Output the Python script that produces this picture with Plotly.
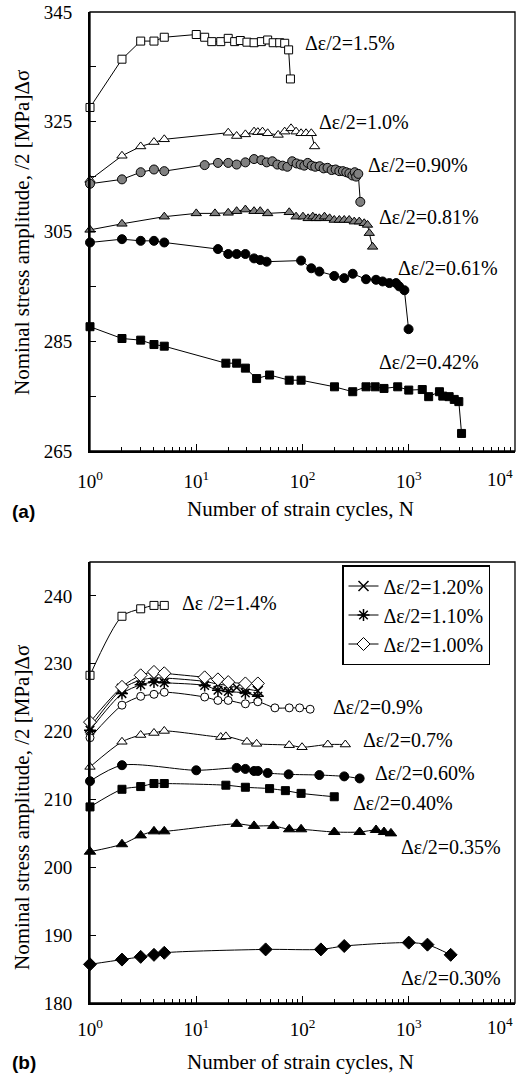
import plotly.graph_objects as go

W, H = 516, 1076

# ---------------- Data: panel (a) ----------------
a_N_150 = [1, 2, 3, 4, 5, 10, 12, 14, 17, 20, 23, 26, 30, 35, 41, 47, 53, 61, 68, 74, 77]
a_S_150 = [327.6, 336.4, 339.7, 339.7, 340.4, 340.9, 340.4, 339.6, 339.6, 340.2, 339.6, 339.8,
           339.5, 339.4, 339.6, 339.9, 339.4, 339.4, 339.3, 338.1, 332.8]

a_N_100 = [1, 2, 3, 4, 5, 20, 24, 29, 35, 38, 42, 47, 59, 68, 78, 87, 97, 108, 121, 130]
a_S_100 = [314.4, 318.8, 320.5, 321.3, 321.8, 323.0, 322.4, 322.7, 323.2, 323.1, 323.2, 322.9,
           322.6, 323.2, 323.8, 323.2, 322.9, 322.9, 322.9, 320.5]

a_N_090 = [1, 2, 3, 4, 5, 12, 16, 20, 24, 29, 35, 41, 46, 52, 58, 65, 72, 80, 88, 96, 104, 112,
           122, 132, 145, 158, 172, 188, 205, 222, 240, 258, 276, 295, 310, 320, 335, 350]
a_S_090 = [313.7, 314.5, 315.8, 316.3, 316.0, 317.1, 317.5, 317.5, 317.2, 317.6, 318.2, 318.0,
           317.6, 317.8, 317.2, 317.0, 316.8, 317.8, 317.4, 317.2, 317.0, 317.5, 317.0, 316.8,
           316.9, 316.5, 316.6, 316.2, 316.3, 316.0, 316.0, 315.8, 315.6, 315.2, 315.8, 315.0,
           315.5, 310.4]

a_N_081 = [1, 2, 5, 10, 15, 20, 24, 29, 35, 40, 47, 75, 87, 101, 113, 125, 134, 144, 161, 180,
           199, 222, 247, 275, 307, 342, 381, 409, 425, 457]
a_S_081 = [305.3, 306.4, 307.7, 308.3, 308.3, 308.4, 308.7, 309.0, 308.7, 308.7, 308.3, 308.5,
           307.7, 307.7, 307.4, 307.7, 307.4, 307.4, 307.7, 307.4, 307.1, 307.1, 307.1, 307.1,
           306.8, 306.8, 306.5, 306.2, 304.7, 302.2]

a_N_061 = [1, 2, 3, 4, 5, 16, 20, 24, 29, 35, 40, 46, 97, 121, 144, 199, 247, 297, 396, 492,
           567, 657, 760, 813, 910, 996]
a_S_061 = [303.0, 303.6, 303.3, 303.3, 303.0, 301.8, 300.9, 300.9, 300.9, 300.1, 299.8, 299.5,
           299.7, 298.3, 297.7, 296.9, 296.5, 297.3, 296.3, 296.2, 295.9, 295.6, 295.6, 295.0,
           294.3, 287.2]

a_N_042 = [1, 2, 3, 4, 5, 19, 24, 29, 37, 49, 75, 97, 200, 297, 396, 483, 585, 787, 1000, 1340,
           1540, 1945, 2090, 2400, 2680, 2960, 3140]
a_S_042 = [287.65, 285.5, 285.2, 284.4, 284.1, 281.0, 281.0, 280.1, 278.2, 278.85, 277.9, 277.9,
           276.7, 275.8, 276.7, 276.7, 276.4, 276.7, 276.1, 276.2, 274.9, 275.8, 275.0, 274.9,
           274.4, 274.0, 268.2]

# ---------------- Data: panel (b) ----------------
b_N_140 = [1, 2, 3, 4, 5]
b_S_140 = [228.3, 237.0, 238.1, 238.6, 238.6]

b_N_120 = [1, 2, 3, 4, 5, 12, 16, 20, 24, 29, 38]
b_S_120 = [220.6, 226.3, 227.6, 227.9, 227.9, 227.4, 227.0, 226.8, 226.5, 226.3, 226.0]

b_N_110 = [1, 2, 3, 4, 5, 12, 16, 20, 29, 38]
b_S_110 = [220.2, 225.6, 226.9, 227.3, 227.2, 226.8, 226.1, 225.9, 225.7, 225.2]

b_N_100 = [1, 2, 3, 4, 5, 12, 16, 20, 29, 38]
b_S_100 = [221.4, 226.6, 228.3, 228.8, 228.6, 228.0, 227.7, 227.3, 227.1, 227.1]

b_N_090 = [1, 2, 3, 4, 5, 12, 16, 20, 29, 38, 55, 75, 94, 118]
b_S_090 = [219.1, 223.9, 225.2, 225.5, 225.8, 225.1, 224.6, 224.6, 224.1, 224.4, 223.5, 223.5,
           223.5, 223.3]

b_N_070 = [1, 2, 3, 4, 5, 17, 19, 30, 37, 75, 99, 173, 253]
b_S_070 = [214.8, 218.5, 219.5, 219.8, 220.1, 219.2, 219.3, 218.5, 218.2, 218.0, 217.7, 218.1,
           218.1]

b_N_060 = [1, 2, 10, 24, 29, 35, 38, 47, 74, 144, 247, 345]
b_S_060 = [212.7, 215.05, 214.3, 214.65, 214.5, 214.2, 214.2, 213.9, 213.7, 213.6, 213.4, 213.1]

b_N_040 = [1, 2, 3, 4, 5, 19, 29, 49, 69, 97, 199]
b_S_040 = [208.9, 211.5, 211.9, 212.35, 212.35, 212.1, 211.8, 211.6, 211.3, 210.9, 210.4]

b_N_035 = [1, 2, 3, 4, 5, 24, 35, 53, 75, 97, 199, 345, 492, 585, 680]
b_S_035 = [202.3, 203.4, 204.7, 205.3, 205.3, 206.4, 206.1, 206.1, 205.6, 205.6, 205.2, 205.2,
           205.5, 205.2, 205.0]

b_N_030 = [1, 2, 3, 4, 5, 45, 149, 247, 1000, 1500, 2480]
b_S_030 = [185.7, 186.4, 186.8, 187.1, 187.4, 187.9, 187.9, 188.4, 188.9, 188.6, 187.1]

# labels: (text, log10 N position, stress position)
a_labels = [("Δε/2=1.5%", 2.000, 339.4), ("Δε/2=1.0%", 2.141, 325.0),
            ("Δε/2=0.90%", 2.601, 317.1), ("Δε/2=0.81%", 2.704, 307.6),
            ("Δε/2=0.61%", 2.883, 298.3), ("Δε/2=0.42%", 2.704, 281.2)]
b_labels = [("Δε /2=1.4%", 0.845, 238.9), ("Δε/2=0.9%", 2.272, 223.6),
            ("Δε/2=0.7%", 2.554, 218.7), ("Δε/2=0.60%", 2.667, 213.9),
            ("Δε/2=0.40%", 2.460, 209.5), ("Δε/2=0.35%", 2.911, 203.0),
            ("Δε/2=0.30%", 2.911, 183.7)]

SERIF = "Liberation Serif"
GREY = "#808080"

fig = go.Figure()


def add(N, S, symbol, fill, xa, ya, size=9, shape="linear", name=None, legend=False,
        lw=1.0):
    fig.add_trace(go.Scatter(
        x=N, y=S, mode="lines+markers", xaxis=xa, yaxis=ya, name=name,
        showlegend=legend, cliponaxis=False,
        line=dict(color="black", width=1, shape=shape, smoothing=0.8),
        marker=dict(symbol=symbol, size=size, color=fill,
                    line=dict(color="black", width=lw))))


# panel (a)
add(a_N_150, a_S_150, "square", "white", "x", "y", size=8)
add(a_N_100, a_S_100, "triangle-up", "white", "x", "y", size=9)
add(a_N_090, a_S_090, "circle", GREY, "x", "y", size=9)
add(a_N_081, a_S_081, "triangle-up", GREY, "x", "y", size=9)
add(a_N_061, a_S_061, "circle", "black", "x", "y", size=9)
add(a_N_042, a_S_042, "square", "black", "x", "y", size=8)

# panel (b)
add(b_N_140, b_S_140, "square", "white", "x2", "y2", size=8, shape="spline")
add(b_N_120, b_S_120, "x-thin", "black", "x2", "y2", size=10, shape="spline",
    name="Δε/2=1.20%", legend=True, lw=1.5)
add(b_N_110, b_S_110, "asterisk", "black", "x2", "y2", size=10, shape="spline",
    name="Δε/2=1.10%", legend=True, lw=1.5)
add(b_N_100, b_S_100, "diamond", "white", "x2", "y2", size=10, shape="spline",
    name="Δε/2=1.00%", legend=True)
add(b_N_090, b_S_090, "circle", "white", "x2", "y2", size=8, shape="spline")
add(b_N_070, b_S_070, "triangle-up", "white", "x2", "y2", size=9, shape="spline")
add(b_N_060, b_S_060, "circle", "black", "x2", "y2", size=9, shape="spline")
add(b_N_040, b_S_040, "square", "black", "x2", "y2", size=8, shape="spline")
add(b_N_035, b_S_035, "triangle-up", "black", "x2", "y2", size=10, shape="spline")
add(b_N_030, b_S_030, "diamond", "black", "x2", "y2", size=10, shape="spline")

tickfont = dict(family=SERIF, size=19, color="black")
minor_x = [m * 10 ** d for d in range(4) for m in range(2, 10)]
xticks = [1, 10, 100, 1000]
xtext = ["10<sup>0</sup>", "10<sup>1</sup>", "10<sup>2</sup>", "10<sup>3</sup>"]


def px(x):
    return x / W


def py(y):
    return 1 - y / H


xcommon = dict(type="log", range=[0, 4], showgrid=False, zeroline=False,
               showline=True, linecolor="black", linewidth=2, automargin=False,
               ticks="inside", ticklen=7, tickcolor="black", tickwidth=1,
               tickvals=xticks, ticktext=xtext, tickfont=tickfont,
               minor=dict(tickvals=minor_x, ticks="inside", ticklen=4,
                          tickcolor="black", tickwidth=1, showgrid=False),
               domain=[px(90), px(515)])

fig.update_layout(
    width=W, height=H, margin=dict(l=0, r=0, t=0, b=0),
    paper_bgcolor="white", plot_bgcolor="white",
    font=dict(family=SERIF, color="black"),
    xaxis=dict(**xcommon, anchor="y", ticklabelstandoff=12),
    xaxis2=dict(**xcommon, anchor="y2", ticklabelstandoff=8),
    yaxis=dict(range=[265, 345], domain=[py(451), py(12)], anchor="x", automargin=False,
               tickvals=[265, 285, 305, 325, 345], showgrid=False, zeroline=False,
               showline=True, linecolor="black", linewidth=2,
               ticks="inside", ticklen=6, tickcolor="black", tickfont=tickfont,
               ticklabelstandoff=12,
               minor=dict(dtick=10, tick0=265, ticks="inside", ticklen=6,
                          tickcolor="black", showgrid=False)),
    yaxis2=dict(range=[180, 245], domain=[py(1003), py(562)], anchor="x2",
                automargin=False,
                dtick=10, tick0=180, showgrid=False, zeroline=False,
                showline=True, linecolor="black", linewidth=2,
                ticks="inside", ticklen=6, tickcolor="black", tickfont=tickfont,
                ticklabelstandoff=12),
    legend=dict(x=px(342), y=py(565), xanchor="left", yanchor="top",
                bordercolor="black", borderwidth=1.5, bgcolor="white",
                font=dict(family=SERIF, size=20, color="black"),
                tracegroupgap=0, entrywidth=112),
)

# thin top/right frame lines
for xr, yr in (("x", "y"), ("x2", "y2")):
    fig.add_shape(type="rect", xref=f"{xr} domain", yref=f"{yr} domain",
                  x0=0, x1=1, y0=0, y1=1, line=dict(color="black", width=1.3),
                  layer="above")

ann = []
for txt, lx, ly in a_labels:
    ann.append(dict(text=txt, x=lx, y=ly, xref="x", yref="y", xanchor="left",
                    yanchor="middle", showarrow=False,
                    font=dict(family=SERIF, size=20, color="black")))
for txt, lx, ly in b_labels:
    ann.append(dict(text=txt, x=lx, y=ly, xref="x2", yref="y2", xanchor="left",
                    yanchor="middle", showarrow=False,
                    font=dict(family=SERIF, size=20, color="black")))

titlefont = dict(family=SERIF, size=21, color="black")
ytitle = "Nominal stress amplitude, /2 [MPa]Δσ"
xtitle = "Number of strain cycles, N"
ann += [
    dict(text=ytitle, x=px(22), y=py(233), xref="paper", yref="paper", textangle=-90,
         showarrow=False, font=titlefont, xanchor="center", yanchor="middle"),
    dict(text=ytitle, x=px(22), y=py(808), xref="paper", yref="paper", textangle=-90,
         showarrow=False, font=titlefont, xanchor="center", yanchor="middle"),
    dict(text=xtitle, x=px(300), y=py(509), xref="paper", yref="paper",
         showarrow=False, font=titlefont, xanchor="center", yanchor="middle"),
    dict(text=xtitle, x=px(300), y=py(1062), xref="paper", yref="paper",
         showarrow=False, font=titlefont, xanchor="center", yanchor="middle"),
    dict(text="<b>(a)</b>", x=px(10), y=py(511), xref="paper", yref="paper",
         showarrow=False, xanchor="left", yanchor="middle",
         font=dict(family="Liberation Sans", size=19, color="black")),
    dict(text="<b>(b)</b>", x=px(10), y=py(1062), xref="paper", yref="paper",
         showarrow=False, xanchor="left", yanchor="middle",
         font=dict(family="Liberation Sans", size=19, color="black")),
    dict(text="10<sup>4</sup>", x=px(515), y=py(478), xref="paper", yref="paper",
         showarrow=False, xanchor="right", yanchor="middle", font=tickfont),
    dict(text="10<sup>4</sup>", x=px(515), y=py(1026), xref="paper", yref="paper",
         showarrow=False, xanchor="right", yanchor="middle", font=tickfont),
]
fig.update_layout(annotations=ann)

fig.write_html("out.html", config={"displayModeBar": False},
               post_script="document.body.style.margin='0';"
                           "document.body.style.overflow='hidden';")
